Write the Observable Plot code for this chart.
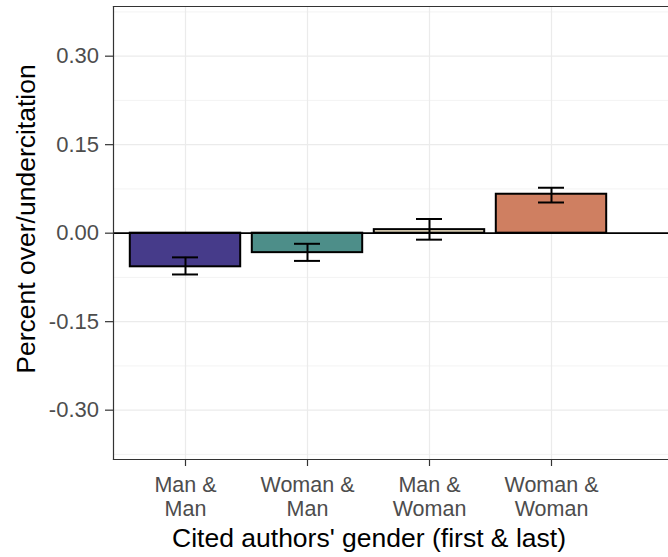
<!DOCTYPE html>
<html><head><meta charset="utf-8">
<script src="https://cdn.jsdelivr.net/npm/d3@7"></script>
<script src="https://cdn.jsdelivr.net/npm/@observablehq/plot@0.6"></script>
<style>
html,body{margin:0;padding:0;background:#fff;overflow:hidden}
</style></head><body><div id="chart"></div>
<script>
// ---- data ----
const categories = ["Man & Man", "Woman & Man", "Man & Woman", "Woman & Woman"];
const tickLabels = ["Man &\nMan", "Woman &\nMan", "Man &\nWoman", "Woman &\nWoman"];
const values = [-0.057, -0.033, 0.006, 0.066];
const lower  = [-0.070, -0.047, -0.011, 0.052];
const upper  = [-0.041, -0.018, 0.024, 0.077];
const colors = ["#463b8a", "#4d8e89", "#efe3c6", "#cf7f61"];
const yTicks = [-0.30, -0.15, 0, 0.15, 0.30];
const yMinor = [-0.375, -0.225, -0.075, 0.075, 0.225, 0.375];
const yDomain = [-0.3836, 0.3842];
const xTitle = "Cited authors' gender (first & last)";
const yTitle = "Percent over/undercitation";

const data = categories.map((c, i) => ({cat: c, value: values[i], lo: lower[i], hi: upper[i]}));

const band = 122.3, x0 = 123.85;
const font = "'Liberation Sans', Arial, Helvetica, sans-serif";

const chart = Plot.plot({
  width: 668, height: 557,
  marginLeft: 113, marginRight: 0, marginTop: 6, marginBottom: 98,
  style: {fontFamily: font, background: "#fff"},
  x: {domain: categories, range: [x0, x0 + 4 * band], padding: 0, label: null},
  y: {domain: yDomain, label: null},
  color: {domain: categories, range: colors},
  marks: [
    Plot.ruleY(yMinor, {stroke: "#ebebeb", strokeWidth: 0.6}),
    Plot.ruleY(yTicks, {stroke: "#ebebeb", strokeWidth: 1.2}),
    Plot.ruleX(categories, {x: d => d, stroke: "#ebebeb", strokeWidth: 1.2}),
    Plot.barY(data, {x: "cat", y: "value", fill: "cat", stroke: "#000", strokeWidth: 2, insetLeft: 5.8, insetRight: 5.8}),
    Plot.ruleY([0], {stroke: "#000", strokeWidth: 1.8}),
    Plot.ruleX(data, {x: "cat", y1: "lo", y2: "hi", stroke: "#000", strokeWidth: 2}),
    Plot.tickY(data, {x: "cat", y: "lo", stroke: "#000", strokeWidth: 2, insetLeft: 48, insetRight: 48}),
    Plot.tickY(data, {x: "cat", y: "hi", stroke: "#000", strokeWidth: 2, insetLeft: 48, insetRight: 48}),
    Plot.frame({anchor: "left", stroke: "#333", strokeWidth: 1.2}),
    Plot.frame({anchor: "top", stroke: "#333", strokeWidth: 1.2}),
    Plot.frame({anchor: "bottom", stroke: "#333", strokeWidth: 1.2}),
    Plot.axisY({ticks: yTicks, tickFormat: d => d.toFixed(2), tickSize: 8, tickPadding: 6.5,
      fontSize: 22, color: "#4d4d4d", stroke: "#333", strokeWidth: 1.2, label: null}),
    Plot.axisX({tickFormat: d => tickLabels[categories.indexOf(d)], tickSize: 7, tickPadding: 9,
      fontSize: 21.5, lineHeight: 1.1, color: "#4d4d4d", stroke: "#333", strokeWidth: 1.2, label: null}),
    Plot.text([xTitle], {text: d => d, frameAnchor: "bottom", textAnchor: "middle", lineAnchor: "middle",
      dx: -22, dy: 79, fontSize: 26.5, fill: "#000"}),
    Plot.text([yTitle], {text: d => d, frameAnchor: "left", textAnchor: "middle", lineAnchor: "middle",
      rotate: -90, dx: -86.5, dy: -14, fontSize: 26.5, fill: "#000"})
  ]
});
document.getElementById("chart").appendChild(chart);
</script>
</body></html>
